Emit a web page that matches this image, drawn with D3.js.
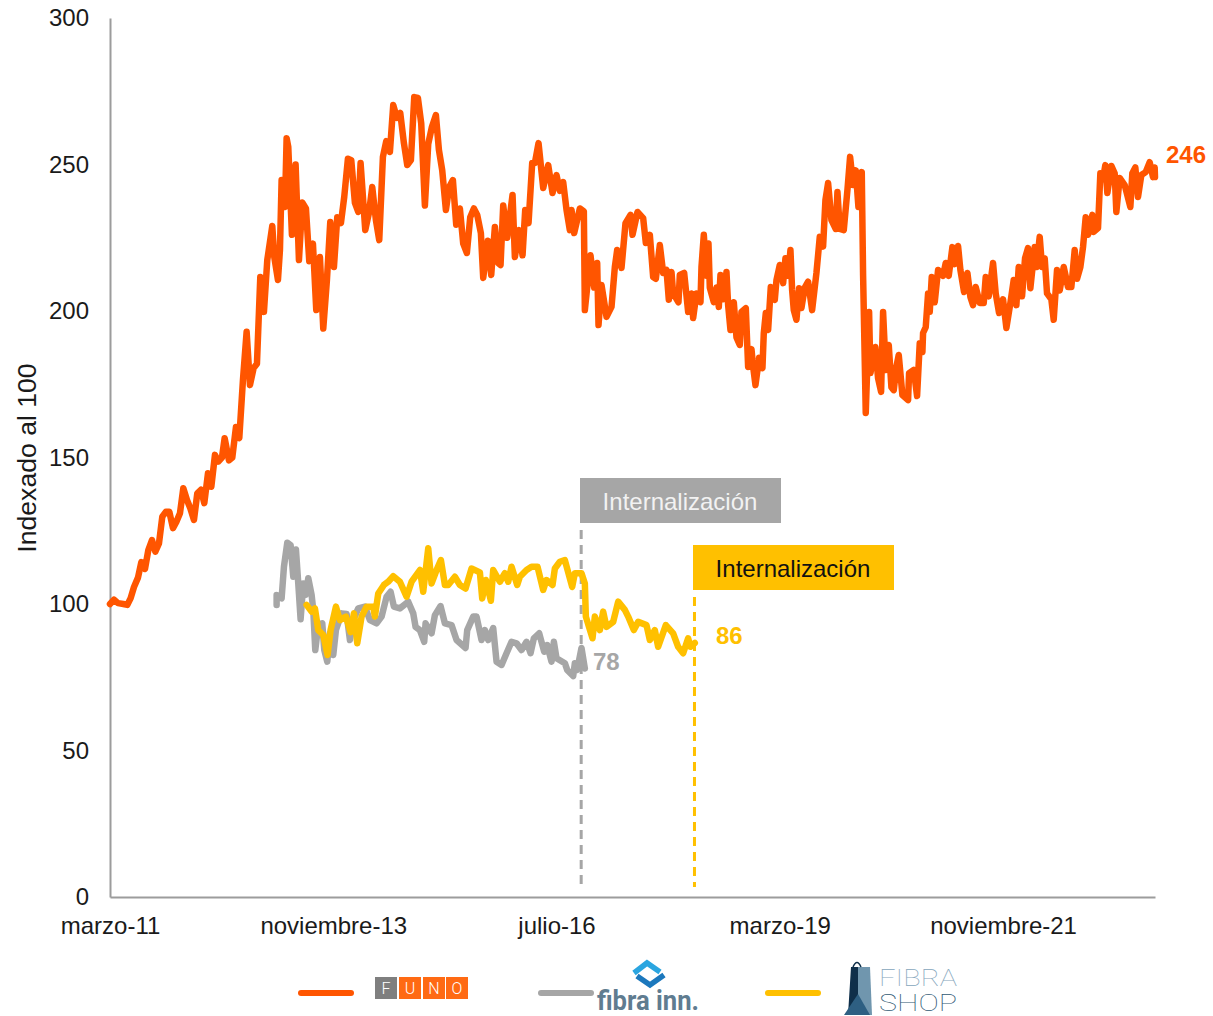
<!DOCTYPE html>
<html><head><meta charset="utf-8">
<script src="https://cdn.jsdelivr.net/npm/d3@7"></script>
<style>html,body{margin:0;padding:0;background:#fff}svg{display:block}text{font-family:"Liberation Sans",Arial,sans-serif}</style>
</head><body><div id="c"></div>
<script>
const yTicks=[0,50,100,150,200,250,300];
const xTickDays=[0,670,1340,2010,2680];
const xTickLabels=["marzo-11","noviembre-13","julio-16","marzo-19","noviembre-21"];
const funoDays=[0,12,24,40,52,62,72,84,94,105,115,126,136,147,157,168,178,189,199,210,220,231,241,252,262,273,283,294,304,315,325,336,344,357,367,378,388,399,410,420,431,441,451,462,472,487,493,504,510,515,525,530,535,546,557,567,577,588,598,609,619,630,640,651,661,672,682,693,703,714,724,735,745,752,766,777,787,798,808,819,829,840,850,861,871,882,892,903,913,924,934,945,955,966,978,987,997,1008,1018,1029,1039,1050,1060,1071,1081,1092,1102,1113,1120,1134,1144,1155,1165,1172,1180,1192,1208,1215,1228,1238,1246,1256,1267,1275,1286,1300,1315,1328,1340,1350,1360,1370,1380,1385,1393,1410,1422,1425,1442,1453,1462,1466,1475,1490,1505,1515,1522,1535,1547,1562,1568,1583,1600,1608,1620,1630,1638,1650,1660,1670,1677,1685,1690,1706,1710,1723,1735,1745,1750,1760,1772,1775,1782,1790,1796,1800,1812,1820,1827,1832,1840,1850,1855,1862,1872,1880,1890,1895,1908,1915,1925,1930,1937,1948,1958,1962,1968,1975,1983,1995,2000,2010,2020,2027,2035,2042,2047,2052,2060,2068,2075,2085,2095,2107,2120,2130,2140,2147,2155,2165,2178,2183,2190,2202,2213,2221,2230,2238,2246,2256,2260,2268,2278,2282,2297,2305,2314,2320,2328,2337,2345,2352,2360,2367,2378,2395,2398,2412,2422,2430,2438,2440,2448,2455,2460,2466,2475,2485,2500,2508,2517,2528,2535,2545,2552,2563,2573,2582,2590,2598,2610,2622,2628,2637,2650,2658,2668,2680,2690,2702,2712,2720,2727,2737,2746,2755,2762,2775,2780,2790,2797,2805,2812,2825,2832,2842,2850,2862,2875,2885,2895,2902,2912,2920,2928,2935,2948,2952,2965,2972,2980,2987,2993,3005,3015,3020,3030,3045,3062,3068,3077,3085,3095,3108,3120,3130,3135,3136];
const funoValues=[100,101.5,100.3,100,99.7,102,105.8,109,114.3,112,118.4,121.8,117.9,120.7,129.8,131.5,131.5,125.9,128,131,139.5,135.5,132.7,128.7,137.8,139,134.4,144.6,140,150.9,148.6,150,156.6,149,150,160.4,156.6,176.5,192.9,174.7,180.5,182,211.6,199.7,217.4,229,218.4,210.6,220.8,244.7,235.5,259,256,226,250,217.4,237,235,217,223,200.3,218.4,194,210.6,230.4,215,232,230,239,252,251.5,236.9,233.8,250.5,227.6,233.4,242.3,231,224.2,252.6,258,254.3,270.3,265.9,267.6,257.3,249.8,251.5,273,272.7,264,236,257,262.8,266.9,255,248,234.5,242.3,244.7,229.4,235,223,219.8,232,235,232.8,226.6,211.3,224,212.3,228.7,216.4,215.7,236,225,239.6,218.4,227.6,219,234.5,230,250.5,250.5,257.3,242,249.8,240.3,246.4,241,244,234.5,227.6,234.5,226.6,235,234,200.3,219,208,216.4,195.2,208.9,198,201.4,215,220.8,214.7,230,232.8,226,233.8,231.7,223.2,226,211.6,211,222.5,213,214,203.8,213.3,206,203,212.3,213,199.7,206,197.6,206,203,215,226,212,223,208,203,208,201.4,212.3,204,213.3,202,193.5,203,191,188.4,199.7,201,180.9,187,181,174.7,184,180.5,192.5,199.3,193.5,208.2,203.8,210.5,215.7,209.5,218,212,220.8,207.2,200.3,197,207.8,201,208,210,200.3,213,225.3,222,237.9,243.7,231,228,240.6,228,227.6,241.3,252.6,243,248,235.5,247.4,212.3,165.2,199.7,178.8,187.7,177,172.4,199.7,179.9,188.4,174,173,181,185,171.3,169.6,178.8,179.9,171,189,186,192.5,194.5,206,199.7,211.6,203,214,212,216.4,212,221.8,216,222.2,214,206.5,213,204.8,202,208.2,202.7,202.7,211.6,205,216.4,206,199.3,204,194.2,202.7,210.6,202,215,205,218,221.5,207.8,221.8,215,225.3,215,218,206,204,197,214,207,215,208.2,208.2,220.8,211,215,221.8,232,226,232.8,227,228.3,247,245,249.8,240.3,249.5,247,233.8,245.4,243,235.5,247,249,238.9,246.4,247.4,250.8,245.7,249,245.7];
const innDays=[500,500,515,522,532,542,550,558,565,572,580,587,595,605,610,616,625,637,643,652,660,670,678,695,710,720,730,745,765,780,800,815,830,842,852,870,895,910,917,930,943,947,965,975,992,1005,1025,1040,1067,1072,1090,1100,1115,1125,1135,1150,1160,1175,1190,1205,1220,1235,1250,1262,1272,1288,1303,1312,1325,1332,1340,1365,1372,1390,1395,1402,1415,1425];
const innValues=[99.7,103.1,101.9,112.7,120.9,120.1,109.3,118.6,107,94.8,107,103.1,108.8,103.1,98,84.3,92.8,93.4,84.3,80.3,90,82.6,91.1,96.8,96.6,87.7,94.5,98.5,99.1,94.5,93.4,95.7,102.5,104.2,99.1,98.5,100.8,96.8,92.2,91.1,87.1,93.4,90,96.2,99.3,93.4,92.8,87.7,85,91.1,95.7,95.7,87.7,91.1,87.7,91.8,80.3,79.2,83.2,87.1,86.6,84.3,87.1,83.2,88.3,90,83.7,86,80.3,87.1,81.5,79.8,77.5,75.4,79.8,77.5,85,78];
const shopDays=[590,605,615,625,640,653,662,678,690,708,722,732,742,755,770,790,795,805,822,835,850,870,890,905,930,940,955,965,980,993,1005,1015,1035,1050,1067,1085,1110,1117,1128,1143,1150,1170,1185,1195,1205,1222,1230,1250,1265,1283,1300,1310,1328,1335,1350,1365,1387,1395,1415,1425,1428,1448,1455,1470,1480,1490,1510,1525,1545,1555,1572,1585,1610,1620,1635,1645,1668,1690,1705,1720,1735,1742,1755];
const shopValues=[99.7,97.4,98.5,91.1,89.4,82.6,91.1,99.1,94.5,95.7,90.4,96.8,86.6,95.7,99.1,99.1,95.7,103.6,106.5,107.6,109.5,107.6,102.5,107.6,111.6,104.2,119,107,111.6,115,106.5,106.5,109.3,106.5,105.3,112.1,110.8,101.9,108.2,101.1,111.6,107.6,110.5,107.6,112.7,106.5,109.3,111.6,112.7,112.7,104.8,108.2,106.5,112.1,114.4,115,105.8,110.5,110.5,107,95.7,88.3,95.7,91.1,97.4,92.2,93.9,100.8,98,95.7,91.1,93.9,92.8,87.7,91.1,85.4,92.8,90,85.4,83.2,88.3,85.4,86.7];
const lastLabels=["246","78","86"];
const annotationDayInn=1414, annotationDayShop=1754;
const colors={funo:"#FF5500",inn:"#A6A6A6",shop:"#FFC000"};

const W=1213,H=1016;
const svg=d3.select("#c").append("svg").attr("width",W).attr("height",H);
const x=d3.scaleLinear().domain([0,3136]).range([110,1155]);
const y=d3.scaleLinear().domain([0,300]).range([897,18]);
const line=d3.line().x(d=>x(d[0])).y(d=>y(d[1])).curve(d3.curveLinear);
const FS=24;

// axes
const ax=svg.append("g").attr("transform","translate(110,0)").call(d3.axisLeft(y).tickValues(yTicks).tickSize(0).tickPadding(21));
const bx=svg.append("g").attr("transform","translate(0,897)").call(d3.axisBottom(x).tickValues(xTickDays).tickFormat((d,i)=>xTickLabels[i]).tickSize(0).tickPadding(20));
[ax,bx].forEach(g=>{g.select(".domain").attr("stroke","#9c9c9c").attr("stroke-width",2);
 g.selectAll("text").attr("font-size",FS).attr("fill","#1a1a1a").attr("font-family",'"Liberation Sans",Arial,sans-serif');});
svg.append("text").attr("transform","translate(36,458) rotate(-90)").attr("text-anchor","middle").attr("font-size",26.6).attr("fill","#1a1a1a").text("Indexado al 100");

// dashed guides
svg.append("line").attr("x1",x(annotationDayInn)).attr("x2",x(annotationDayInn)).attr("y1",530).attr("y2",890).attr("stroke",colors.inn).attr("stroke-width",3).attr("stroke-dasharray","9 6");
svg.append("line").attr("x1",x(annotationDayShop)).attr("x2",x(annotationDayShop)).attr("y1",597).attr("y2",887).attr("stroke",colors.shop).attr("stroke-width",3).attr("stroke-dasharray","9 6");

// series
const zip=(a,b)=>a.map((d,i)=>[d,b[i]]);
const draw=(data,c)=>svg.append("path").attr("d",line(data)).attr("fill","none").attr("stroke",c).attr("stroke-width",6.5).attr("stroke-linejoin","round").attr("stroke-linecap","round");
draw(zip(funoDays,funoValues),colors.funo);
draw(zip(innDays,innValues),colors.inn);
draw(zip(shopDays,shopValues),colors.shop);

// end labels
svg.append("text").attr("x",1166).attr("y",163).attr("font-size",FS).attr("font-weight",700).attr("fill",colors.funo).text(lastLabels[0]);
svg.append("text").attr("x",593).attr("y",670).attr("font-size",FS).attr("font-weight",700).attr("fill",colors.inn).text(lastLabels[1]);
svg.append("text").attr("x",716).attr("y",644).attr("font-size",FS).attr("font-weight",700).attr("fill",colors.shop).text(lastLabels[2]);

// annotation boxes
svg.append("rect").attr("x",580).attr("y",478).attr("width",201).attr("height",45).attr("fill",colors.inn);
svg.append("text").attr("x",680).attr("y",510).attr("text-anchor","middle").attr("font-size",FS).attr("fill","#f2f2f2").text("Internalización");
svg.append("rect").attr("x",693).attr("y",545).attr("width",201).attr("height",45).attr("fill",colors.shop);
svg.append("text").attr("x",793).attr("y",577).attr("text-anchor","middle").attr("font-size",FS).attr("fill","#111").text("Internalización");

// legend lines
[[298,colors.funo],[538,colors.inn],[765,colors.shop]].forEach(([lx,c])=>{
 svg.append("line").attr("x1",lx+3).attr("x2",lx+53).attr("y1",993).attr("y2",993).attr("stroke",c).attr("stroke-width",6).attr("stroke-linecap","round");});

// FUNO logo
[["F",375,"#7f7f7f"],["U",399,"#FF6A13"],["N",423,"#FF6A13"],["O",446,"#FF6A13"]].forEach(([t,bx0,c])=>{
 svg.append("rect").attr("x",bx0).attr("y",977).attr("width",22).attr("height",22).attr("fill",c);
 svg.append("text").attr("x",bx0+11).attr("y",994).attr("text-anchor","middle").attr("font-size",16).attr("fill","#fff").style("font-family","Roboto").style("font-weight",300).text(t);});

// fibra inn logo
svg.append("path").attr("d","M634 973L647 963L660 972").attr("fill","none").attr("stroke","#2aa5e0").attr("stroke-width",5.5);
svg.append("path").attr("d","M637 976L650 985L664 975").attr("fill","none").attr("stroke","#1c78bd").attr("stroke-width",5.5);
svg.append("text").attr("x",597).attr("y",1010).attr("font-size",27).attr("font-weight",700).attr("fill","#5f7c90").attr("textLength",102).attr("lengthAdjust","spacingAndGlyphs").style("font-family","Roboto").text("fibra inn.");

// FibraShop logo
svg.append("path").attr("d","M851 967L848 1015H858L858 967Z").attr("fill","#0f2f4a");
svg.append("path").attr("d","M858 967L870 967L872 1015L858 1015Z").attr("fill","#7096ae");
svg.append("path").attr("d","M844 1015L858 994L870 1015Z").attr("fill","#2e5f82");
svg.append("path").attr("d","M853 967Q857 958 861 967").attr("fill","none").attr("stroke","#0f2f4a").attr("stroke-width",1.5);
svg.append("text").attr("x",879).attr("y",986).attr("font-size",23).attr("fill","#86a6bc").attr("textLength",78).attr("lengthAdjust","spacingAndGlyphs").style("font-family","Roboto").style("font-weight",100).text("FIBRA");
svg.append("text").attr("x",879).attr("y",1011).attr("font-size",23).attr("fill","#2f5873").attr("textLength",78).attr("lengthAdjust","spacingAndGlyphs").style("font-family","Roboto").style("font-weight",100).text("SHOP");
</script></body></html>
